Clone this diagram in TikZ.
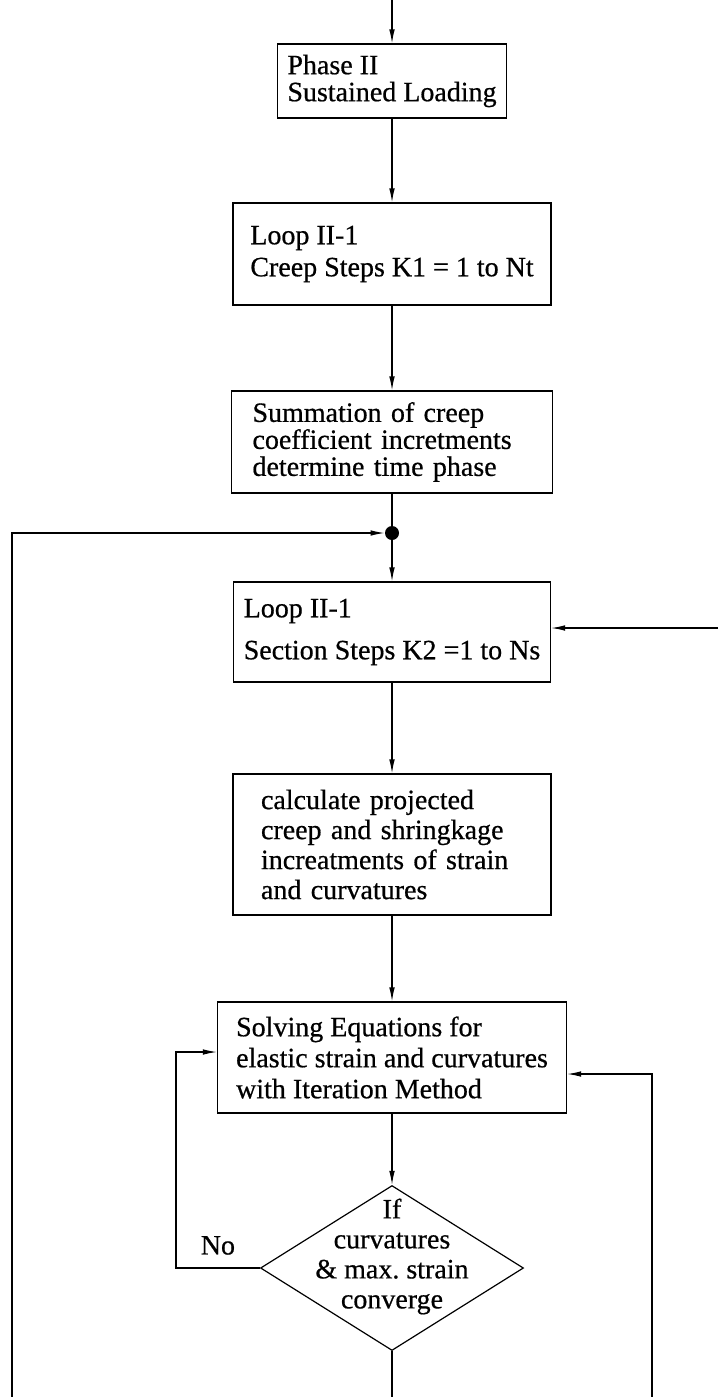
\documentclass[tikz,border=0pt]{standalone}
\usepackage{fontspec}
\setmainfont{Liberation Serif}
\newfontfamily\scanfont{Liberation Serif}[FakeBold=0.6]
\usetikzlibrary{arrows.meta,positioning,shapes.geometric}
\newcommand{\flowfont}[1]{\scanfont\fontsize{14pt}{#1}\selectfont}
\tikzset{
  flowbox/.style={draw, rectangle, align=left, inner ysep=0pt, line width=0.6pt},
  flowdiamond/.style={draw, diamond, align=center, aspect=1.594, inner xsep=-4pt, inner ysep=-16pt, line width=0.6pt},
  flowarrow/.style={-{Latex[length=7pt,width=2.8pt]}, line width=0.6pt},
  flowline/.style={line width=0.6pt},
  flowdot/.style={circle, fill, inner sep=0pt, minimum size=7pt},
}
\begin{document}
\begin{tikzpicture}[x=0.5pt, y=-0.5pt]
  \useasboundingbox (0,0) rectangle (718,1397);

  \node[flowbox, minimum width=114.5pt, minimum height=37pt, font=\flowfont{13.5pt}] (phase) at (392,81) {Phase II\\Sustained Loading};
  \node[flowbox, minimum width=159pt, minimum height=51pt, font=\flowfont{16pt}] (creep) at (392,254) {Loop II-1\\Creep Steps K1 = 1 to Nt};
  \node[flowbox, text width=139.5pt, inner xsep=10.5pt, minimum height=51pt, font=\flowfont{13.5pt}] (summ) at (392,442) {Summation of creep\\coefficient incretments\\determine time phase};
  \node[flowdot] (join) at (392,533) {};
  \node[flowbox, minimum width=158.5pt, minimum height=50pt, font=\flowfont{21pt}] (sect) at (392,632) {Loop II-1\\Section Steps K2 =1 to Ns};
  \node[flowbox, text width=131pt, inner xsep=14pt, minimum height=70.5pt, font=\flowfont{15pt}] (proj) at (392,844.5) {calculate projected\\creep and shringkage\\increatments of strain\\and curvatures};
  \node[flowbox, minimum width=174.5pt, minimum height=55.5pt, font=\flowfont{15.5pt}] (solve) at (392,1057.5) {Solving Equations for\\elastic strain and curvatures\\with Iteration Method};
  \node[flowdiamond, minimum width=131.5pt, minimum height=82.5pt, font=\flowfont{15pt}] (conv) at (392,1268) {If\\curvatures\\\&~max.\ strain\\converge\rule[-14.5pt]{0pt}{14.5pt}};

  % free ends at the picture edges
  \coordinate (entry) at (392,0);
  \coordinate (lbot) at (12,1397);
  \coordinate (cbot) at (392,1397);
  \coordinate (rbot) at (652,1397);
  \coordinate (rtop) at (718,628);

  \draw[flowarrow] (entry) -- (phase);
  \draw[flowarrow] (phase) -- (creep);
  \draw[flowarrow] (creep) -- (summ);
  \draw[flowline] (summ) -- (join);
  \draw[flowarrow] (join) -- (sect);
  \draw[flowarrow] (sect) -- (proj);
  \draw[flowarrow] (proj) -- (solve);
  \draw[flowarrow] (solve) -- (conv);
  \draw[flowline] (conv) -- (cbot);

  \draw[flowarrow] (conv.west) -- node[above=3pt, font=\flowfont{14pt}] {No} ++(-84,0) |- ([yshift=2.75pt]solve.west);
  \draw[flowarrow] (rbot) |- ([yshift=-8.25pt]solve.east);
  \draw[flowarrow] (lbot) |- (join);
  \draw[flowarrow] (rtop) -- (rtop -| sect.east);
\end{tikzpicture}
\end{document}
